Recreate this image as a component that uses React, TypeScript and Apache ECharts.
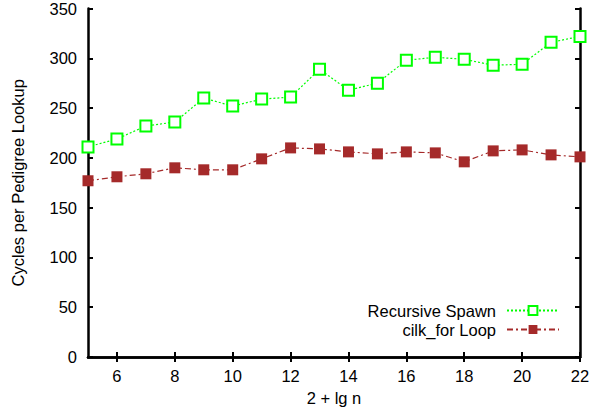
import React, { useEffect, useRef } from "react";
import * as echarts from "echarts";

const xValues = [5, 6, 7, 8, 9, 10, 11, 12, 13, 14, 15, 16, 17, 18, 19, 20, 21, 22];
const recursiveSpawn = [211, 219, 232, 236, 260, 252, 259, 261, 289, 268, 275, 298, 301, 299, 293, 294, 316, 322];
const cilkForLoop = [177, 181, 184, 190, 188, 188, 199, 210, 209, 206, 204, 206, 205, 196, 207, 208, 203, 201];
const xTicks = [6, 8, 10, 12, 14, 16, 18, 20, 22];
const seriesNames = ["Recursive Spawn", "cilk_for Loop"];

const FONT = "Liberation Sans, Arial, sans-serif";

export default function App() {
  const ref = useRef<HTMLDivElement>(null);
  useEffect(() => {
    if (!ref.current) return;
    const chart = echarts.init(ref.current, undefined, { renderer: "svg" });
    const tickStyle = { show: true, inside: true, length: 5, lineStyle: { color: "#000", width: 2 } };
    const lineStyle = { show: true, lineStyle: { color: "#000", width: 2.5 } };
    chart.setOption({
      animation: false,
      backgroundColor: "#fff",
      textStyle: { fontFamily: FONT },
      grid: { left: 88, right: 21, top: 8, bottom: 56, containLabel: false },
      legend: {
        orient: "vertical",
        right: 41,
        top: 302,
        padding: 0,
        align: "right",
        itemWidth: 52,
        itemHeight: 11,
        itemGap: 2,
        textStyle: { fontSize: 16.5, lineHeight: 16, color: "#000", fontFamily: FONT, padding: [0, 6, 0, 0] },
        data: seriesNames,
      },
      xAxis: [
        {
          type: "value",
          min: 5,
          max: 22,
          name: "2 + lg n",
          nameLocation: "middle",
          nameGap: 32,
          nameTextStyle: { fontSize: 16.5, color: "#000", fontFamily: FONT },
          axisLine: lineStyle,
          axisTick: { ...tickStyle, customValues: xTicks },
          axisLabel: { fontSize: 16.5, color: "#000", margin: 10, customValues: xTicks, fontFamily: FONT },
          splitLine: { show: false },
        },
        {
          type: "value",
          min: 5,
          max: 22,
          position: "top",
          axisLine: lineStyle,
          axisTick: { ...tickStyle, customValues: xTicks },
          axisLabel: { show: false },
          splitLine: { show: false },
        },
      ],
      yAxis: [
        {
          type: "value",
          min: 0,
          max: 350,
          interval: 50,
          name: "Cycles per Pedigree Lookup",
          nameLocation: "middle",
          nameGap: 62,
          nameTextStyle: { fontSize: 16.5, color: "#000", fontFamily: FONT },
          axisLine: lineStyle,
          axisTick: tickStyle,
          axisLabel: { fontSize: 16.5, color: "#000", margin: 11, fontFamily: FONT },
          splitLine: { show: false },
        },
        {
          type: "value",
          min: 0,
          max: 350,
          interval: 50,
          position: "right",
          axisLine: lineStyle,
          axisTick: tickStyle,
          axisLabel: { show: false },
          splitLine: { show: false },
        },
      ],
      series: [
        {
          name: seriesNames[0],
          type: "line",
          data: xValues.map((x, i) => [x, recursiveSpawn[i]]),
          symbol: "rect",
          symbolSize: 11,
          itemStyle: { color: "#fff", borderColor: "#00ff00", borderWidth: 2 },
          lineStyle: { color: "#00ff00", width: 1.2, type: [2, 2] },
          z: 3,
        },
        {
          name: seriesNames[1],
          type: "line",
          data: xValues.map((x, i) => [x, cilkForLoop[i]]),
          symbol: "rect",
          symbolSize: 11,
          itemStyle: { color: "#a52a2a", borderWidth: 0 },
          lineStyle: { color: "#a52a2a", width: 1.2, type: [6, 3, 2, 3] },
          z: 2,
        },
      ],
    });
    return () => chart.dispose();
  }, []);
  return <div ref={ref} style={{ width: 601, height: 413, position: "absolute", left: 0, top: 0 }} />;
}
